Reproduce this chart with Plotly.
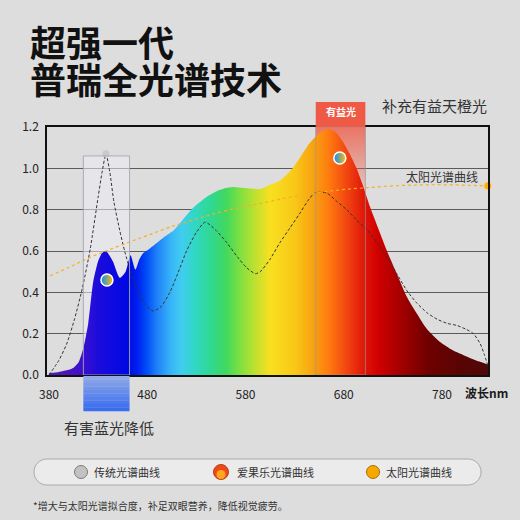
import plotly.graph_objects as go

# lamp spectrum (rainbow filled area)
spec_nm = [380, 390, 400, 405, 410, 415, 420, 425, 430, 434, 438, 445, 452, 458, 463, 468, 472, 476,
           482, 490, 498, 507, 516, 527, 540, 551, 560, 567, 580, 595, 605, 615, 628, 645, 655, 664,
           672, 679, 686, 693, 700, 707, 715, 724, 734, 744, 754, 765, 778, 791, 805, 818, 827]
spec_val = [0.01, 0.015, 0.025, 0.035, 0.06, 0.13, 0.25, 0.45, 0.55, 0.59, 0.60, 0.55, 0.47, 0.50,
            0.58, 0.51, 0.56, 0.59, 0.61, 0.64, 0.67, 0.70, 0.75, 0.81, 0.86, 0.89, 0.905, 0.91, 0.905,
            0.90, 0.92, 0.94, 1.00, 1.12, 1.17, 1.19, 1.175, 1.13, 1.07, 1.00, 0.91, 0.81, 0.71, 0.60,
            0.49, 0.38, 0.30, 0.22, 0.16, 0.12, 0.09, 0.065, 0.05]

# traditional lamp spectrum (dashed)
trad_nm = [380, 390, 398, 406, 414, 422, 430, 434, 438, 442, 446, 452, 457, 463, 470, 478, 486, 494,
           503, 511, 520, 530, 539, 550, 561, 572, 581, 590, 595, 605, 615, 625, 635, 643, 650, 657,
           663, 673, 683, 693, 704, 714, 724, 734, 744, 754, 765, 775, 785, 795, 805, 812, 819, 823, 827]
trad_val = [0.0, 0.07, 0.15, 0.27, 0.42, 0.61, 0.86, 0.98, 1.07, 0.98, 0.84, 0.70, 0.60, 0.50, 0.41,
            0.34, 0.31, 0.33, 0.40, 0.49, 0.60, 0.69, 0.74, 0.70, 0.64, 0.57, 0.52, 0.49, 0.50, 0.56,
            0.64, 0.71, 0.78, 0.84, 0.88, 0.885, 0.88, 0.84, 0.80, 0.75, 0.70, 0.64, 0.57, 0.49, 0.41,
            0.35, 0.30, 0.27, 0.25, 0.24, 0.22, 0.20, 0.15, 0.10, 0.04]

# sunlight spectrum (orange dotted)
sun_nm = [381, 400, 420, 438, 460, 480, 503, 530, 560, 595, 625, 650, 675, 700, 730, 760, 790, 826.5]
sun_val = [0.48, 0.52, 0.565, 0.60, 0.64, 0.675, 0.715, 0.755, 0.795, 0.83, 0.86, 0.88, 0.895, 0.905,
           0.915, 0.92, 0.92, 0.915]

# rainbow badges on the lamp curve
badge_nm = [439, 676]
badge_val = [0.46, 1.05]

# colour of light by wavelength
grad_nm = [378, 400, 415, 430, 460, 470, 480, 490, 505, 515, 530, 545, 560, 575, 590, 605, 630, 650,
           665, 685, 700, 715, 740, 765, 800, 827]
grad_col = ["#4e1fa8", "#4a14bc", "#3a10cc", "#1c0cdc", "#0008e2", "#0020f0", "#0050f8", "#2080f8",
            "#38b8f8", "#40ccf0", "#30d8c0", "#30d890", "#40d860", "#80e040", "#c0e030", "#f8e020",
            "#f8c818", "#f8a010", "#ff7a10", "#f04010", "#e01808", "#d00000", "#a00000", "#700000",
            "#580404", "#500808"]

blue_band = [415, 462]
good_band = [651.5, 702]
x_ticks = [380, 480, 580, 680, 780]
y_ticks = [0, 0.2, 0.4, 0.6, 0.8, 1.0, 1.2]

legend_names = ["传统光谱曲线", "爱果乐光谱曲线", "太阳光谱曲线"]

FONT = "Noto Sans CJK SC"
X_RANGE = [378, 826.8]
Y_RANGE = [0, 1.2]

# page layout in pixels
L, R, T, B = 47, 488, 127, 375


def px(x):
    return (x - L) / (R - L)


def py(y):
    return (B - y) / (B - T)


span = X_RANGE[1] - X_RANGE[0]
spec_scale = [[(n - X_RANGE[0]) / span, c] for n, c in zip(grad_nm, grad_col)]
spec_scale[0][0] = 0.0
spec_scale[-1][0] = 1.0

fig = go.Figure()

# red fading highlight under the "有益光" header
fig.add_trace(go.Scatter(
    x=[good_band[0], good_band[1], good_band[1], good_band[0], good_band[0]],
    y=[0.8, 0.8, 1.2, 1.2, 0.8], mode="none", fill="toself",
    fillgradient=dict(type="vertical", start=0.8, stop=1.2,
                      colorscale=[[0, "rgba(238,90,70,0)"], [1, "rgba(238,90,70,0.8)"]]),
    hoverinfo="skip", showlegend=False))

# lamp spectrum
fig.add_trace(go.Scatter(
    x=spec_nm, y=spec_val, mode="lines", fill="tozeroy",
    line=dict(width=0, shape="spline", smoothing=0.6),
    fillgradient=dict(type="horizontal", start=X_RANGE[0], stop=X_RANGE[1], colorscale=spec_scale),
    hoverinfo="skip", showlegend=False))

# traditional spectrum
fig.add_trace(go.Scatter(
    x=trad_nm, y=trad_val, mode="lines",
    line=dict(color="#333333", width=1, dash="3px,2px", shape="spline", smoothing=0.6),
    showlegend=False))

# sunlight spectrum
fig.add_trace(go.Scatter(
    x=sun_nm, y=sun_val, mode="lines",
    line=dict(color="#f4b020", width=1.2, dash="dot", shape="spline"),
    showlegend=False))

peak = trad_val.index(max(trad_val))
fig.add_trace(go.Scatter(
    x=[trad_nm[peak]], y=[trad_val[peak]], mode="markers",
    marker=dict(size=7, color="#c9c9c9", line=dict(width=0)),
    cliponaxis=False, showlegend=False))
fig.add_trace(go.Scatter(
    x=[sun_nm[-1]], y=[sun_val[-1]], mode="markers",
    marker=dict(size=8, color="#f8ac18", line=dict(width=1, color="#ffd98a")),
    cliponaxis=False, showlegend=False))

fig.add_trace(go.Scatter(
    x=badge_nm, y=badge_val, mode="markers",
    marker=dict(size=12, color="#0a8cff", line=dict(width=1.5, color="white"),
                gradient=dict(type="horizontal", color="#ffc000")),
    showlegend=False))

shapes = []
# blue band box
shapes.append(dict(type="rect", xref="x", yref="y", x0=blue_band[0], x1=blue_band[1], y0=0, y1=1.06,
                   layer="between", fillcolor="rgba(236,236,244,0.55)", line=dict(width=0)))
shapes.append(dict(type="rect", xref="x", yref="y", x0=blue_band[0], x1=blue_band[1], y0=0, y1=1.06,
                   layer="above", fillcolor="rgba(0,0,0,0)", line=dict(width=1, color="rgba(165,165,178,0.9)")))
# blue tab below the axis, built as a few bands for a soft gradient
n = 10
top_c, bot_c = (142, 168, 232), (58, 110, 240)
for i in range(n):
    f = i / (n - 1)
    c = tuple(int(top_c[k] + (bot_c[k] - top_c[k]) * f) for k in range(3))
    shapes.append(dict(type="rect", xref="x", yref="paper", x0=blue_band[0], x1=blue_band[1],
                       y0=py(376 + 35 * (i + 1) / n + 0.3), y1=py(376 + 35 * i / n),
                       fillcolor="rgb(%d,%d,%d)" % c, line=dict(width=0), layer="above"))

# beneficial band box and header
shapes.append(dict(type="rect", xref="x", yref="y", x0=good_band[0], x1=good_band[1], y0=0, y1=1.2,
                   layer="above", fillcolor="rgba(0,0,0,0)", line=dict(width=1, color="rgba(150,150,150,0.7)")))
shapes.append(dict(type="rect", xref="x", yref="paper", x0=good_band[0], x1=good_band[1],
                   y0=1.0, y1=py(102), fillcolor="#ee5a46", line=dict(width=0), layer="above"))

# legend pill
pl, pr, pt, pb = 34, 481, 459, 485
r = (pb - pt) / 2
k = 0.552 * r
cy = (pt + pb) / 2


def P(x, y):
    return "%.5f,%.5f" % (px(x), py(y))


pill = ("M " + P(pl + r, pt) + " L " + P(pr - r, pt)
        + " C " + P(pr - r + k, pt) + " " + P(pr, cy - k) + " " + P(pr, cy)
        + " C " + P(pr, cy + k) + " " + P(pr - r + k, pb) + " " + P(pr - r, pb)
        + " L " + P(pl + r, pb)
        + " C " + P(pl + r - k, pb) + " " + P(pl, cy + k) + " " + P(pl, cy)
        + " C " + P(pl, cy - k) + " " + P(pl + r - k, pt) + " " + P(pl + r, pt) + " Z")
shapes.append(dict(type="path", xref="paper", yref="paper", path=pill, layer="below",
                   fillcolor="#ebebeb", line=dict(width=1, color="#ababab")))


def dot(cx, cyy, rad, fill, edge, lw=1):
    shapes.append(dict(type="circle", xref="paper", yref="paper",
                       x0=px(cx - rad), x1=px(cx + rad), y0=py(cyy + rad), y1=py(cyy - rad),
                       fillcolor=fill, line=dict(width=lw, color=edge), layer="above"))


# legend glyphs
dot(81, 472, 6.5, "#c2c2c2", "#7c7c7c")
dot(221, 472, 7.5, "#ec4a1a", "#b8400f")
dot(221, 474.5, 4.5, "#ffa81e", "rgba(0,0,0,0)", 0)
dot(373, 472, 6.5, "#f7a800", "#a67000")

ann = []


def text(s, x, y, size, color="#2a2a2a", xanchor="left", bold=False):
    ann.append(dict(text=s, x=px(x), y=py(y), xref="paper", yref="paper", showarrow=False,
                    xanchor=xanchor, yanchor="middle",
                    font=dict(family=FONT, size=size, color=color, weight=700 if bold else 400)))


text("超强一代", 28, 41, 36, "#111111", bold=True)
text("普瑞全光谱技术", 28, 78, 36, "#111111", bold=True)
text("有益光", 341, 111, 10, "white", "center", bold=True)
text("补充有益天橙光", 489, 105, 15, "#333333", "right")
text("太阳光谱曲线", 442, 176, 12, "#333333", "center")
text("波长nm", 463, 392, 12, "#1a1a1a", bold=True)
text("有害蓝光降低", 109, 427, 15, "#333333", "center")
text(legend_names[0], 92, 472, 11, "#333333")
text(legend_names[1], 235, 472, 11, "#333333")
text(legend_names[2], 384, 472, 11, "#333333")
text("*增大与太阳光谱拟合度，补足双眼营养，降低视觉疲劳。", 31, 505, 10, "#333333")

fig.update_layout(
    width=520, height=520,
    margin=dict(l=L, r=520 - R, t=T, b=520 - B),
    paper_bgcolor="#dddddd", plot_bgcolor="rgba(0,0,0,0)",
    font=dict(family=FONT, size=12, color="#222222"),
    shapes=shapes, annotations=ann, showlegend=False,
    xaxis=dict(range=X_RANGE, tickvals=x_ticks, showgrid=False, zeroline=False,
               showline=True, mirror=True, linecolor="#111111", linewidth=1.5,
               ticks="", ticklabelstandoff=8, tickfont=dict(size=12, color="#222222")),
    yaxis=dict(range=Y_RANGE, tickvals=y_ticks, tickformat=".1f", showgrid=True,
               gridcolor="#5a5a5a", gridwidth=1, zeroline=False,
               showline=True, mirror=True, linecolor="#111111", linewidth=1.5,
               ticks="", ticklabelstandoff=4, tickfont=dict(size=12, color="#222222")),
)

fig.write_html("out.html", config={"displayModeBar": False},
               post_script="document.body.style.margin='0';document.body.style.overflow='hidden';")
